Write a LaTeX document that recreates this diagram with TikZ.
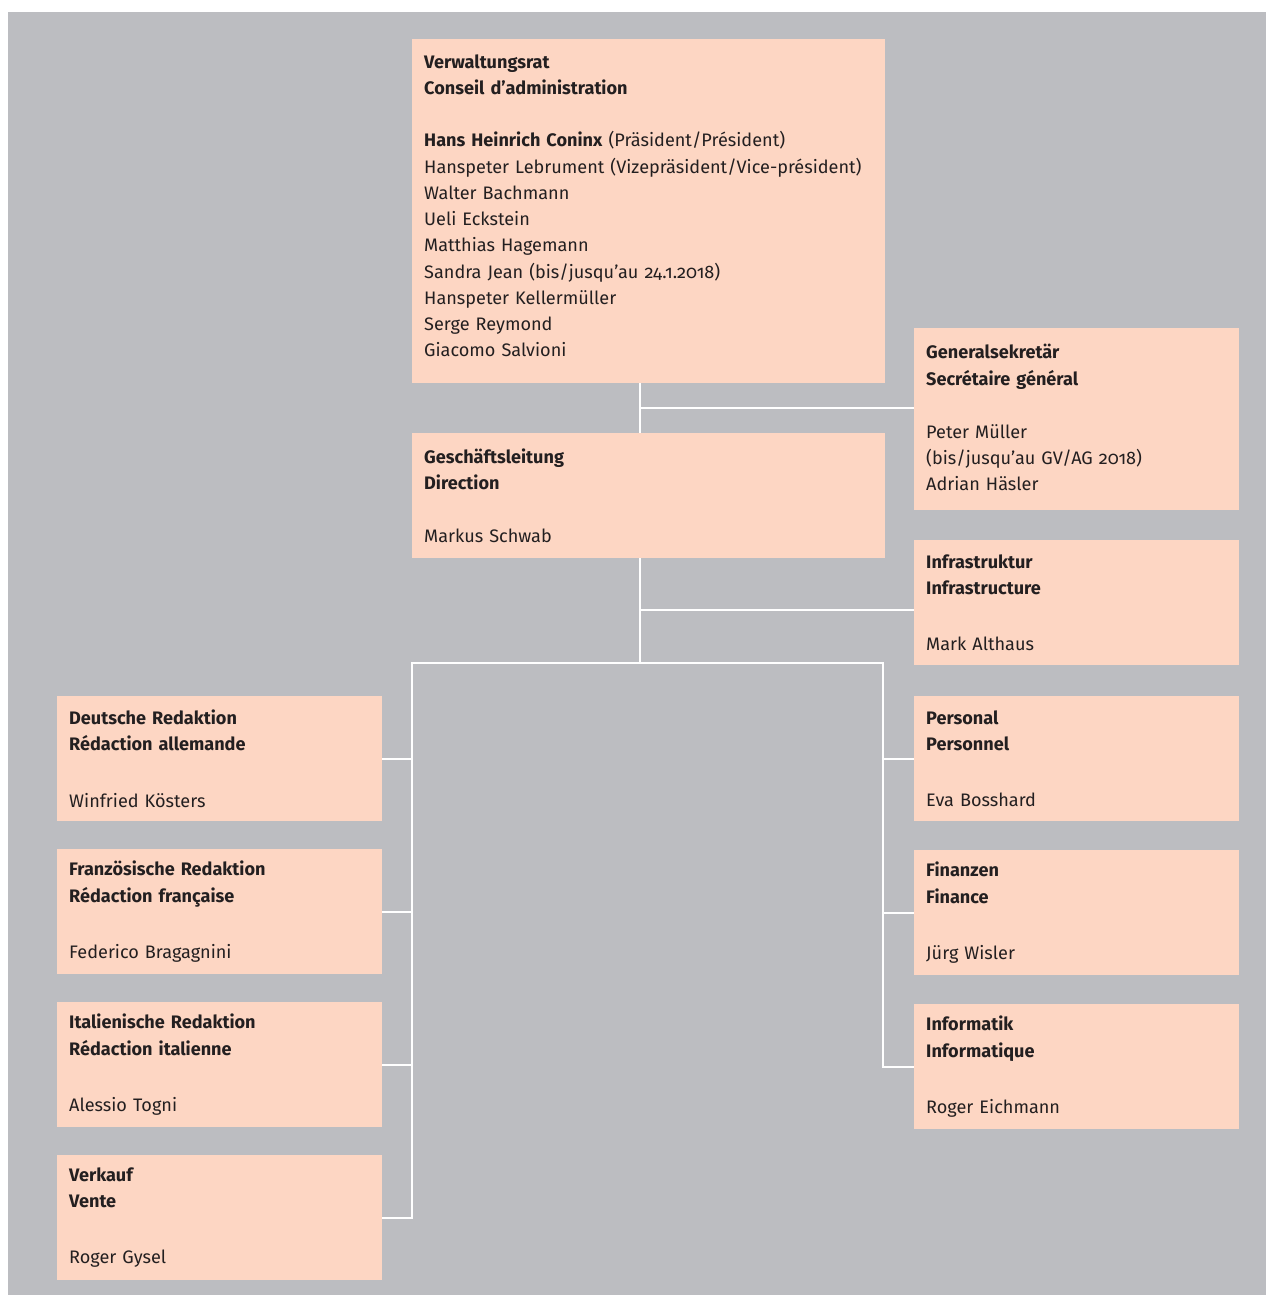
\documentclass[tikz,border=0pt]{standalone}
\usepackage{fontspec}
\setmainfont{Fira Sans}[Numbers=OldStyle]
\usetikzlibrary{calc}
\usetikzlibrary{positioning}

\definecolor{bggrey}{RGB}{188,189,193}
\definecolor{peach}{RGB}{253,214,195}
\definecolor{ink}{RGB}{35,31,32}

\tikzset{
  unit/.style={fill=peach, anchor=north west, inner xsep=12pt, inner ysep=0pt,
    align=left, text=ink, font=\fontsize{18.1}{26.25}\selectfont},
  wideunit/.style={unit, text width=449pt},
  narrowunit/.style={unit, text width=301pt, minimum height=125pt},
  link/.style={draw=white, line width=2pt},
}

\begin{document}
\begin{tikzpicture}[x=1pt, y=-1pt]
    \useasboundingbox (0,0) rectangle (1266,1295);
    \fill[bggrey] (8,12) rectangle (1266,1295);

    \node[wideunit, minimum height=344pt] (board) at (412,39) {\textbf{Verwaltungsrat}\\ \textbf{Conseil d’administration}\\[26.25pt]
      \textbf{Hans Heinrich Coninx} (Präsident/Président)\\ Hanspeter Lebrument (Vizepräsident/Vice-président)\\
      Walter Bachmann\\ Ueli Eckstein\\ Matthias Hagemann\\ Sandra Jean (bis/jusqu’au 24.1.2018)\\
      Hanspeter Kellermüller\\ Serge Reymond\\ Giacomo Salvioni\rule[-11pt]{0pt}{11pt}};
    \node[wideunit, minimum height=125pt] (mgmt) at (412,433) {\textbf{Geschäftsleitung}\\ \textbf{Direction}\\[26.25pt] Markus Schwab};
    \node[narrowunit, minimum height=182pt] (secgen) at (914,328) {\textbf{Generalsekretär}\\ \textbf{Secrétaire général}\\[27pt]
      Peter Müller\\ (bis/jusqu’au GV/AG 2018)\\ Adrian Häsler\rule[-3pt]{0pt}{3pt}};
    \node[narrowunit] (infra) at (914,540) {\textbf{Infrastruktur}\\ \textbf{Infrastructure}\\[30pt] Mark Althaus};

    \node[narrowunit] (dered) at (57,696) {\textbf{Deutsche Redaktion}\\ \textbf{Rédaction allemande}\\[30pt] Winfried Kösters};
    \node[narrowunit] (frred) at (57,849) {\textbf{Französische Redaktion}\\ \textbf{Rédaction française}\\[30pt] Federico Bragagnini};
    \node[narrowunit] (itred) at (57,1002) {\textbf{Italienische Redaktion}\\ \textbf{Rédaction italienne}\\[30pt] Alessio Togni};
    \node[narrowunit] (sales) at (57,1155) {\textbf{Verkauf}\\ \textbf{Vente}\\[30pt] Roger Gysel};

    \node[narrowunit] (hr) at (914,696) {\textbf{Personal}\\ \textbf{Personnel}\\[30pt] Eva Bosshard};
    \node[narrowunit] (fin) at (914,850) {\textbf{Finanzen}\\ \textbf{Finance}\\[30pt] Jürg Wisler};
    \node[narrowunit] (ict) at (914,1004) {\textbf{Informatik}\\ \textbf{Informatique}\\[30pt] Roger Eichmann};

    % junctions of the white lines
    \coordinate (spine) at (640,0);
    \coordinate (secjoin) at (640,408);
    \coordinate (infjoin) at (640,610);
    \coordinate (lrail) at (412,663);
    \coordinate (rrail) at (883,663);

    \draw[link] (board.south -| spine) -- (mgmt.north -| spine);
    \draw[link] (secjoin) -- (secjoin -| secgen.west);
    \draw[link] (mgmt.south -| spine) -- (spine |- lrail);
    \draw[link] (infjoin) -- (infjoin -| infra.west);
    \draw[link] (sales.east) -| (lrail) -- (rrail) |- (ict.west);
    \foreach \n in {dered,frred,itred}
      \draw[link] (\n.east) -- (\n.east -| lrail);
    \foreach \n in {hr,fin}
      \draw[link] (\n.west) -- (\n.west -| rrail);
  \end{tikzpicture}
\end{document}
